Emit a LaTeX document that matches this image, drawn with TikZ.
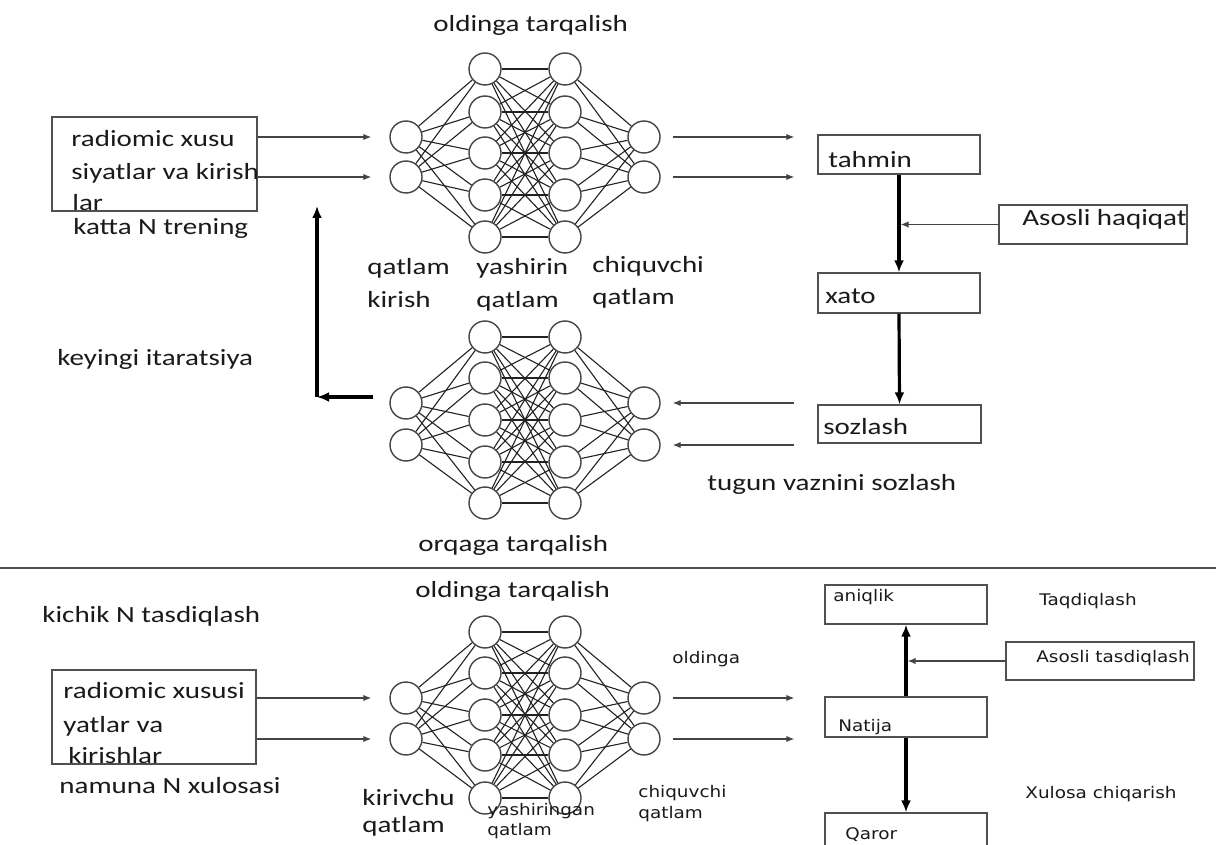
\documentclass[tikz,border=0pt]{standalone}
\usepackage{fontspec}
\setmainfont{Carlito}[FakeStretch=1.25]
\newfontfamily\smallfont{DejaVu Sans}[FakeStretch=1.15]
\usetikzlibrary{arrows.meta}
\definecolor{txt}{HTML}{1A1A1A}
\definecolor{bcol}{HTML}{505050}
\definecolor{ncol}{HTML}{444444}
\definecolor{lcol}{HTML}{222222}
\newcommand\mynet[4]{%
  \node[neuron] (#1i1) at (406,#2) {};
  \node[neuron] (#1i2) at (406,#3) {};
  \node[neuron] (#1o1) at (644,#2) {};
  \node[neuron] (#1o2) at (644,#3) {};
  \foreach \yy [count=\k] in {#4} {
    \node[neuron] (#1a\k) at (485,\yy) {};
    \node[neuron] (#1b\k) at (565,\yy) {};
  }
  \foreach \i in {1,2} \foreach \k in {1,...,5} {
    \draw[link] (#1i\i) -- (#1a\k);
    \draw[link] (#1b\k) -- (#1o\i);
  }
  \foreach \k in {1,...,5} \foreach \m in {1,...,5} \draw[link] (#1a\k) -- (#1b\m);
}
\begin{document}
\begin{tikzpicture}[x=0.5pt,y=-0.5pt,
  big/.style={font=\fontsize{11.6}{13}\selectfont, text=txt, inner sep=0pt, anchor=base west},
  sm/.style={font=\smallfont\fontsize{8}{9.5}\selectfont, text=txt, inner sep=0pt, anchor=base west},
  neuron/.style={circle, draw=ncol, line width=0.7pt, minimum size=16pt, inner sep=0pt},
  link/.style={draw=lcol, line width=0.55pt},
  box/.style={draw=bcol, line width=0.7pt, inner sep=0pt, rectangle},
  thinarr/.style={draw=ncol, line width=0.65pt, -{Latex[length=4pt,width=3.2pt]}},
  thickarr/.style={draw=black, line width=1.6pt, -{Latex[length=6pt,width=5pt]}},
]
\useasboundingbox (0,0) rectangle (1216,845);
\clip (0,0) rectangle (1216,845);
\fill[white] (0,0) rectangle (1216,845);

% ---------- networks ----------
\mynet{t}{137}{177}{69,112,153,195,237}
\mynet{b}{403}{445}{337,378,420,462,503}
\mynet{c}{698}{739}{632,673,715,755,798}

% ---------- boxes ----------
\node[box, minimum width=102.5pt, minimum height=47pt] (tbox) at (154.5,164) {};
\node[box, minimum width=81pt, minimum height=19.5pt] (tahmin) at (899,154.5) {};
\node[box, minimum width=94pt, minimum height=19.5pt] (asosli) at (1093,224.5) {};
\node[box, minimum width=81pt, minimum height=20pt] (xato) at (899,293) {};
\node[box, minimum width=81.5pt, minimum height=19pt] (sozlash) at (899.5,424) {};
\node[box, minimum width=102pt, minimum height=47pt] (cbox) at (154,717) {};
\node[box, minimum width=81pt, minimum height=19.5pt] (aniqlik) at (906,604.5) {};
\node[box, minimum width=94pt, minimum height=19pt] (asosli2) at (1100,661) {};
\node[box, minimum width=81pt, minimum height=20pt] (natija) at (906,717) {};
\node[box, minimum width=81pt, minimum height=20pt] (qaror) at (906,833) {};

% ---------- texts top ----------
\node[big] (l1) at (433,32) {oldinga tarqalish};
\node[big] (l2) at (71,147) {radiomic xusu};
\node[big] (l3) at (71,180) {siyatlar va kirish};
\node[big] (l4) at (72,211) {lar};
\node[big] (l5) at (73,235) {katta N trening};
\node[big] (l6) at (57,365) {keyingi itaratsiya};
\node[big] (l7) at (367,275) {qatlam};
\node[big] (l8) at (367,308) {kirish};
\node[big] (l9) at (476,275) {yashirin};
\node[big] (l10) at (476,308) {qatlam};
\node[big] (l11) at (592,273) {chiquvchi};
\node[big] (l12) at (592,305) {qatlam};
\node[big] (l13) at (828,168) {tahmin};
\node[big] (l14) at (1022,226) {Asosli haqiqat};
\node[big] (l15) at (825,304) {xato};
\node[big] (l16) at (823,434) {sozlash};
\node[big] (l17) at (707,490) {tugun vaznini sozlash};
\node[big] (l18) at (418,551) {orqaga tarqalish};

% ---------- texts bottom ----------
\node[big] (m1) at (42,622) {kichik N tasdiqlash};
\node[big] (m2) at (63,698) {radiomic xususi};
\node[big] (m3) at (63,732) {yatlar va};
\node[big] (m4) at (68,763) {kirishlar};
\node[big] (m5) at (59,793) {namuna N xulosasi};
\node[big] (m6) at (415,597) {oldinga tarqalish};
\node[big] (m7) at (362,805) {kirivchu};
\node[big] (m8) at (362,832) {qatlam};
\node[sm] (s1) at (487,815) {yashiringan};
\node[sm] (s2) at (487,835) {qatlam};
\node[sm] (s3) at (672,663) {oldinga};
\node[sm] (s4) at (638,797) {chiquvchi};
\node[sm] (s5) at (638,818) {qatlam};
\node[sm] (s6) at (833,601) {aniqlik};
\node[sm] (s7) at (1039,605) {Taqdiqlash};
\node[sm] (s8) at (1036,662) {Asosli tasdiqlash};
\node[sm] (s9) at (838,731) {Natija};
\node[sm] (s10) at (1025,798) {Xulosa chiqarish};
\node[sm] (s11) at (845,839) {Qaror};

% ---------- connectors top ----------
\draw[thinarr, shorten >=9pt] (tbox.east |- ti1) -- (ti1.west);
\draw[thinarr, shorten >=9pt] (tbox.east |- ti2) -- (ti2.west);
\draw[thinarr, shorten <=6pt, shorten >=11.5pt] (to1.east) -- (to1 -| tahmin.west);
\draw[thinarr, shorten <=6pt, shorten >=11.5pt] (to2.east) -- (to2 -| tahmin.west);
\draw[thinarr, shorten >=0.8pt] (asosli.west) -- (asosli.west -| tahmin.south);
\draw[thickarr] (tahmin.south) -- (xato.north);
\draw[thickarr] (xato.south) -- (sozlash.north);
\draw[thinarr, shorten <=11.5pt, shorten >=6pt] (bo1 -| sozlash.west) -- (bo1.east);
\draw[thinarr, shorten <=11.5pt, shorten >=6pt] (bo2 -| sozlash.west) -- (bo2.east);
\coordinate (bstart) at (373,397);
\coordinate (turn) at (317,397);
\coordinate (upend) at (317,206);
\draw[thickarr] (bstart) -- (turn);
\draw[thickarr] (turn) -- (upend);

% ---------- separator ----------
\draw[draw=bcol, line width=0.8pt] (0,568) -- (1216,568);

% ---------- connectors bottom ----------
\draw[thinarr, shorten >=9pt] (cbox.east |- ci1) -- (ci1.west);
\draw[thinarr, shorten >=9pt] (cbox.east |- ci2) -- (ci2.west);
\draw[thinarr, shorten <=6pt, shorten >=15pt] (co1.east) -- (co1 -| natija.west);
\draw[thinarr, shorten <=6pt, shorten >=15pt] (co2.east) -- (co2 -| natija.west);
\draw[thinarr, shorten >=0.8pt] (asosli2.west) -- (asosli2.west -| natija.north);
\draw[thickarr] (natija.north) -- (aniqlik.south);
\draw[thickarr] (natija.south) -- (qaror.north);
\end{tikzpicture}
\end{document}
